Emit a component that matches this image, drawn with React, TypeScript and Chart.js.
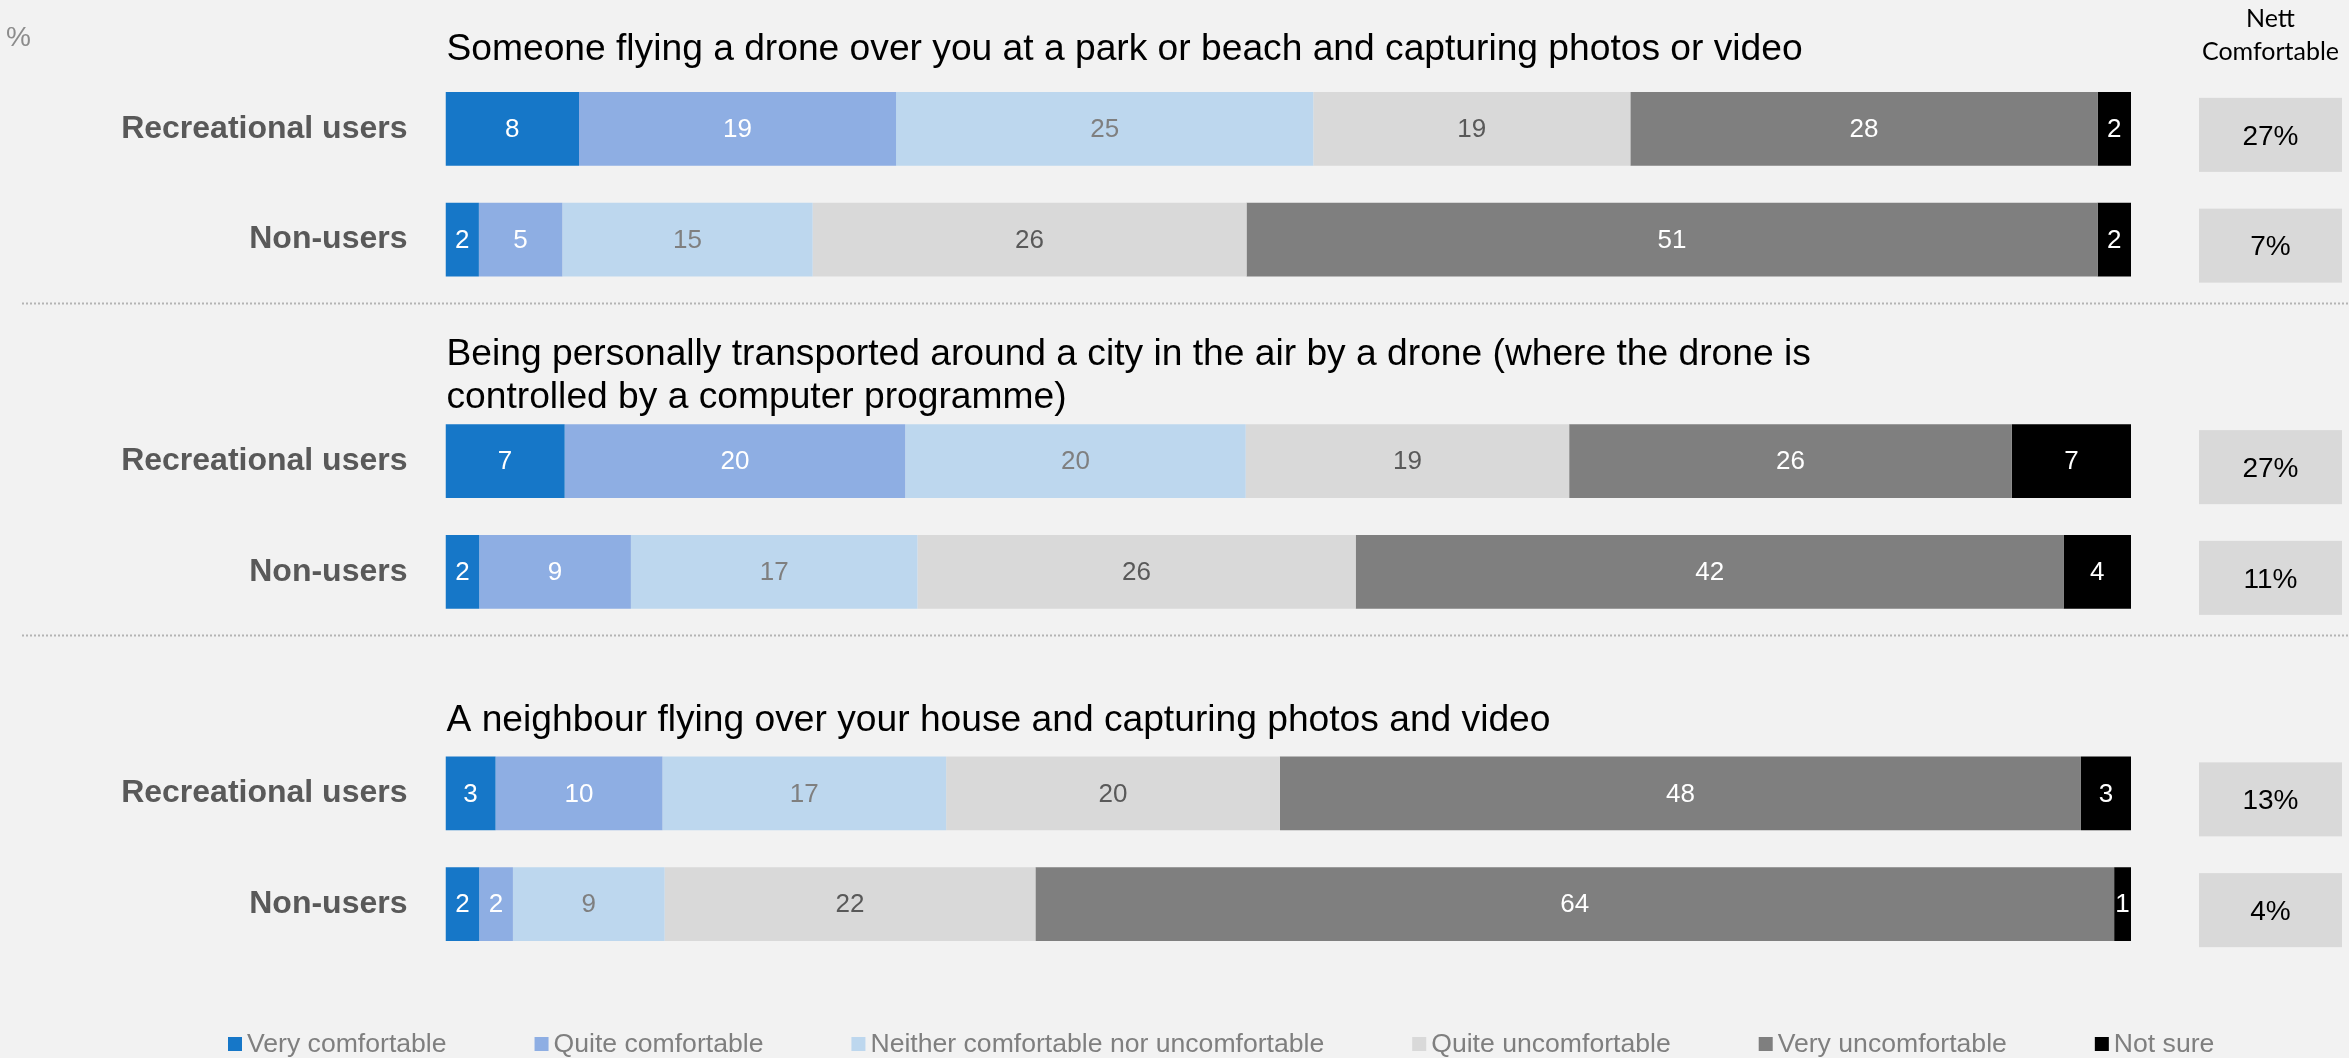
import React, { useEffect, useRef } from "react";
import { Chart, registerables } from "chart.js";

Chart.register(...registerables);

// ---------- data ----------
const unitLabel = "%";
const respondentGroups = ["Recreational users", "Non-users"];
const questions: string[][] = [
  ["Someone flying a drone over you at a park or beach and capturing photos or video"],
  [
    "Being personally transported around a city in the air by a drone (where the drone is",
    "controlled by a computer programme)",
  ],
  ["A neighbour flying over your house and capturing photos and video"],
];
const seriesLabels = [
  "Very comfortable",
  "Quite comfortable",
  "Neither comfortable nor uncomfortable",
  "Quite uncomfortable",
  "Very uncomfortable",
  "Not sure",
];
// one value per bar: Q1 rec, Q1 non, Q2 rec, Q2 non, Q3 rec, Q3 non
const veryComfortable = [8, 2, 7, 2, 3, 2];
const quiteComfortable = [19, 5, 20, 9, 10, 2];
const neitherComfortable = [25, 15, 20, 17, 17, 9];
const quiteUncomfortable = [19, 26, 19, 26, 20, 22];
const veryUncomfortable = [28, 51, 26, 42, 48, 64];
const notSure = [2, 2, 7, 4, 3, 1];
const nettHeader = ["Nett", "Comfortable"];
const nettComfortable = [27, 7, 27, 11, 13, 4];

// ---------- styles ----------
const W = 2349;
const H = 1058;
const BG = "#f2f2f2";
const seriesColors = ["#1677c8", "#8eaee3", "#bdd7ee", "#d9d9d9", "#7f7f7f", "#000000"];
const labelColors = ["#ffffff", "#ffffff", "#7f7f7f", "#595959", "#ffffff", "#ffffff"];
const SANS = "'Liberation Sans', Arial, sans-serif";
const titleOffsets = [69, 53, 62]; // last title line baseline above first bar centre

const seriesValues = [
  veryComfortable,
  quiteComfortable,
  neitherComfortable,
  quiteUncomfortable,
  veryUncomfortable,
  notSure,
];

// build category slots (with blank slots between question groups)
const slotLabels: string[] = [];
const slotRows: (number | null)[] = [];
const groupFirstSlot: number[] = [];
const groupLastSlot: number[] = [];
questions.forEach((_, qi) => {
  if (qi > 0) {
    slotLabels.push("");
    slotRows.push(null);
  }
  groupFirstSlot.push(slotLabels.length);
  respondentGroups.forEach((g, gi) => {
    slotLabels.push(g);
    slotRows.push(qi * respondentGroups.length + gi);
  });
  groupLastSlot.push(slotLabels.length - 1);
});

const rowTotals = veryComfortable.map((_, r) =>
  seriesValues.reduce((s, arr) => s + arr[r], 0)
);

export default function App() {
  const canvasRef = useRef<HTMLCanvasElement | null>(null);

  useEffect(() => {
    const canvas = canvasRef.current;
    if (!canvas) return;

    const datasets = seriesValues.map((vals, s) => ({
      label: seriesLabels[s],
      data: slotRows.map((r) => (r == null ? null : (vals[r] / rowTotals[r]) * 100)),
      raw: slotRows.map((r) => (r == null ? null : vals[r])),
      backgroundColor: seriesColors[s],
      borderWidth: 0,
      categoryPercentage: 1,
      barPercentage: 0.668,
    }));

    const decor = {
      id: "decor",
      beforeDraw(chart: any) {
        const ctx = chart.ctx;
        ctx.save();
        ctx.fillStyle = BG;
        ctx.fillRect(0, 0, chart.width, chart.height);
        ctx.restore();
      },
      afterDatasetsDraw(chart: any) {
        const ctx = chart.ctx;
        ctx.save();
        ctx.font = `26px ${SANS}`;
        ctx.textAlign = "center";
        ctx.textBaseline = "middle";
        chart.data.datasets.forEach((ds: any, i: number) => {
          const meta = chart.getDatasetMeta(i);
          meta.data.forEach((el: any, j: number) => {
            const raw = ds.raw[j];
            if (raw == null) return;
            const p = el.getProps(["x", "y", "base"], true);
            ctx.fillStyle = labelColors[i];
            ctx.fillText(String(raw), (p.x + p.base) / 2, p.y + 1);
          });
        });
        ctx.restore();
      },
      afterDraw(chart: any) {
        const ctx = chart.ctx;
        const yScale = chart.scales.y;
        const slot = yScale.getPixelForValue(1) - yScale.getPixelForValue(0);
        const left = chart.chartArea.left;
        ctx.save();

        // unit label
        ctx.font = `28px ${SANS}`;
        ctx.fillStyle = "#8c8c8c";
        ctx.textAlign = "left";
        ctx.textBaseline = "alphabetic";
        ctx.fillText(unitLabel, 6, 46);

        // question titles
        ctx.font = `37.2px ${SANS}`;
        ctx.fillStyle = "#000000";
        questions.forEach((lines, qi) => {
          const firstY = yScale.getPixelForValue(groupFirstSlot[qi]);
          const lastBase = firstY - titleOffsets[qi];
          lines.forEach((line, li) => {
            const yy = lastBase - (lines.length - 1 - li) * 43;
            ctx.fillText(line, left + 1, yy);
          });
        });

        // separators
        ctx.strokeStyle = "#b4b4b4";
        ctx.lineWidth = 2;
        ctx.setLineDash([2, 2]);
        for (let qi = 0; qi < questions.length - 1; qi++) {
          const yy = Math.round(yScale.getPixelForValue(groupLastSlot[qi]) + slot * 0.57) + 0.5;
          ctx.beginPath();
          ctx.moveTo(22, yy);
          ctx.lineTo(W - 1, yy);
          ctx.stroke();
        }
        ctx.setLineDash([]);

        // nett comfortable column
        const boxL = 2199;
        const boxR = 2342;
        const boxCx = (boxL + boxR) / 2;
        ctx.font = `25px Lato, 'Open Sans', sans-serif`;
        ctx.fillStyle = "#000000";
        ctx.textAlign = "center";
        ctx.fillText(nettHeader[0], boxCx, 27);
        ctx.fillText(nettHeader[1], boxCx, 60);
        slotRows.forEach((r, j) => {
          if (r == null) return;
          const cy = yScale.getPixelForValue(j) + 6;
          ctx.fillStyle = "#d9d9d9";
          ctx.fillRect(boxL, cy - 37, boxR - boxL, 74);
          ctx.fillStyle = "#000000";
          ctx.font = `28px ${SANS}`;
          ctx.textBaseline = "middle";
          ctx.fillText(`${nettComfortable[r]}%`, boxCx, cy + 2);
          ctx.textBaseline = "alphabetic";
        });

        // legend
        ctx.font = `26.6px ${SANS}`;
        ctx.textAlign = "left";
        ctx.textBaseline = "alphabetic";
        let lx = 228;
        chart.data.datasets.forEach((ds: any) => {
          ctx.fillStyle = ds.backgroundColor;
          ctx.fillRect(lx, 1037, 14, 14);
          ctx.fillStyle = "#7f7f7f";
          ctx.fillText(ds.label, lx + 19, 1052);
          lx += 19 + ctx.measureText(ds.label).width + 88;
        });

        ctx.restore();
      },
    };

    const chart = new Chart(canvas, {
      type: "bar",
      data: { labels: slotLabels, datasets: datasets as any },
      options: {
        indexAxis: "y",
        responsive: false,
        animation: false,
        layout: { padding: { left: 0, right: W - 2131, top: 73.5, bottom: H - 959.5 } },
        scales: {
          x: { stacked: true, min: 0, max: 100, display: false },
          y: {
            stacked: true,
            grid: { display: false, drawTicks: false },
            border: { display: false },
            ticks: {
              autoSkip: false,
              padding: 38,
              color: "#595959",
              font: { family: SANS, size: 32, weight: "bold" },
            },
            afterFit(scale: any) {
              scale.width = 445.5;
            },
          },
        },
        plugins: {
          legend: { display: false },
          tooltip: { enabled: false },
          title: { display: false },
        },
      },
      plugins: [decor],
    });

    return () => chart.destroy();
  }, []);

  return (
    <div
      style={{
        position: "fixed",
        left: 0,
        top: 0,
        width: W + "px",
        height: H + "px",
        background: BG,
      }}
    >
      <canvas ref={canvasRef} width={W} height={H} style={{ width: W + "px", height: H + "px", display: "block" }} />
    </div>
  );
}
